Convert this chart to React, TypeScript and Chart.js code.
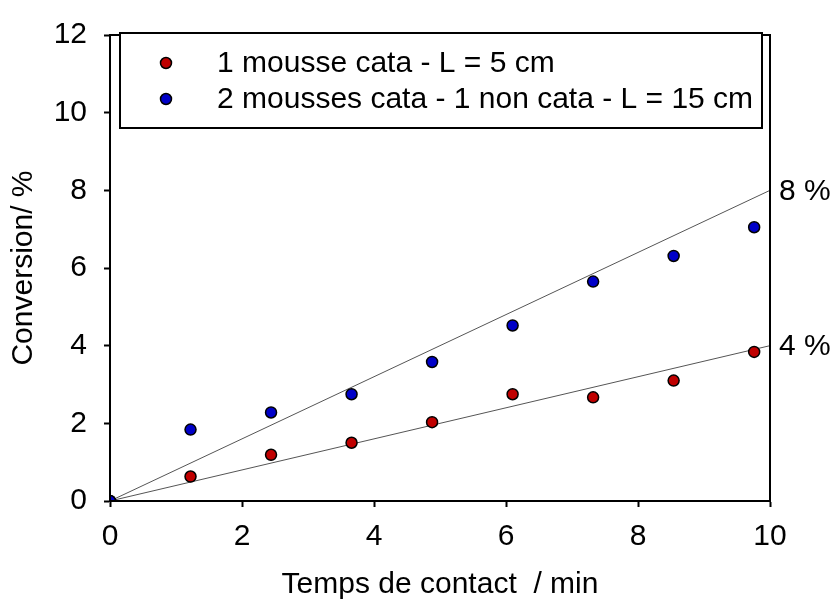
import React, { useEffect, useRef } from "react";
import { Chart, registerables } from "chart.js";

Chart.register(...registerables);

const contactTimes = [0, 1.22, 2.44, 3.66, 4.88, 6.1, 7.32, 8.54, 9.76];
const conversionOneFoam = [0, 0.63, 1.19, 1.5, 2.03, 2.75, 2.67, 3.1, 3.84];
const conversionTwoFoams = [0, 1.84, 2.28, 2.75, 3.58, 4.52, 5.65, 6.31, 7.05];
const seriesLabels = ["1 mousse cata - L = 5 cm", "2 mousses cata - 1 non cata - L = 15 cm"];
const fitLineX = [0, 10];
const fitEndValues = [8, 4];
const fitLabels = ["8 %", "4 %"];
const xTicks = [0, 2, 4, 6, 8, 10];
const yTicks = [0, 2, 4, 6, 8, 10, 12];

const RED = "#c00000";
const BLUE = "#0000c8";
const FONT = "'Liberation Sans', Arial, sans-serif";
const FS = 30;

const framePlugin = {
  id: "frameAndLegend",
  afterDatasetsDraw(chart: any) {
    const { ctx, chartArea, scales } = chart;
    ctx.save();
    ctx.strokeStyle = "#000";
    ctx.lineWidth = 2;
    ctx.strokeRect(chartArea.left, chartArea.top, chartArea.right - chartArea.left, chartArea.bottom - chartArea.top);
    ctx.fillStyle = "#000";
    ctx.font = `${FS}px ${FONT}`;
    ctx.textAlign = "left";
    ctx.textBaseline = "middle";
    fitEndValues.forEach((v, i) => {
      const y = scales.y.getPixelForValue(v);
      ctx.fillText(fitLabels[i], chartArea.right + 9, y + 1);
    });
    const bx = 120, by = 33, bw = 642, bh = 95;
    ctx.fillStyle = "#fff";
    ctx.fillRect(bx, by, bw, bh);
    ctx.lineWidth = 2;
    ctx.strokeStyle = "#000";
    ctx.strokeRect(bx, by, bw, bh);
    const colors = [RED, BLUE];
    const rowsY = [63, 99];
    seriesLabels.forEach((lab, i) => {
      ctx.beginPath();
      ctx.arc(166, rowsY[i], 5.5, 0, Math.PI * 2);
      ctx.fillStyle = colors[i];
      ctx.fill();
      ctx.lineWidth = 1.5;
      ctx.strokeStyle = "#000";
      ctx.stroke();
      ctx.fillStyle = "#000";
      ctx.font = `${FS}px ${FONT}`;
      ctx.textBaseline = "middle";
      ctx.fillText(lab, 217, rowsY[i] + 1);
    });
    ctx.restore();
  },
};

export default function App() {
  const ref = useRef<HTMLCanvasElement>(null);
  useEffect(() => {
    if (!ref.current) return;
    const pts = (ys: number[]) => contactTimes.map((x, i) => ({ x, y: ys[i] }));
    const fit = (end: number) => fitLineX.map((x) => ({ x, y: (end * x) / 10 }));
    const chart = new Chart(ref.current, {
      type: "scatter",
      data: {
        datasets: [
          {
            type: "line",
            label: "fit8",
            data: fit(fitEndValues[0]),
            borderColor: "#555",
            borderWidth: 1,
            pointRadius: 0,
            fill: false,
            order: 3,
          } as any,
          {
            type: "line",
            label: "fit4",
            data: fit(fitEndValues[1]),
            borderColor: "#555",
            borderWidth: 1,
            pointRadius: 0,
            fill: false,
            order: 3,
          } as any,
          {
            label: seriesLabels[0],
            data: pts(conversionOneFoam),
            backgroundColor: RED,
            borderColor: "#000",
            borderWidth: 1.5,
            pointRadius: 5.5,
            order: 2,
          },
          {
            label: seriesLabels[1],
            data: pts(conversionTwoFoams),
            backgroundColor: BLUE,
            borderColor: "#000",
            borderWidth: 1.5,
            pointRadius: 5.5,
            order: 1,
          },
        ],
      },
      options: {
        animation: false,
        responsive: false,
        events: [],
        layout: { padding: { top: 27, right: 60, left: 0, bottom: 0 } },
        plugins: { legend: { display: false }, tooltip: { enabled: false } },
        scales: {
          x: {
            type: "linear",
            min: 0,
            max: 10,
            afterBuildTicks: (s: any) => {
              s.ticks = xTicks.map((v) => ({ value: v }));
            },
            afterFit: (s: any) => {
              s.height = 102;
            },
            ticks: { color: "#000", font: { family: FONT, size: FS }, padding: 12, maxRotation: 0 },
            grid: { drawOnChartArea: false, drawTicks: true, tickLength: 6, tickWidth: 2, tickColor: "#000" },
            border: { display: true, color: "#000", width: 2 },
            title: {
              display: true,
              text: "Temps de contact  / min",
              color: "#000",
              font: { family: FONT, size: FS },
              padding: { top: 0, bottom: 0 },
            },
          },
          y: {
            type: "linear",
            min: 0,
            max: 12,
            afterBuildTicks: (s: any) => {
              s.ticks = yTicks.map((v) => ({ value: v }));
            },
            afterFit: (s: any) => {
              s.width = 110;
            },
            ticks: { color: "#000", font: { family: FONT, size: FS }, padding: 17 },
            grid: { drawOnChartArea: false, drawTicks: true, tickLength: 6, tickWidth: 2, tickColor: "#000" },
            border: { display: true, color: "#000", width: 2 },
            title: {
              display: true,
              text: "Conversion/ %",
              color: "#000",
              font: { family: FONT, size: FS },
              padding: { top: 6, bottom: 0 },
            },
          },
        },
      },
      plugins: [framePlugin],
    });
    return () => chart.destroy();
  }, []);
  return (
    <div style={{ position: "absolute", left: 0, top: 0, width: 830, height: 603, background: "#fff" }}>
      <canvas ref={ref} width={830} height={603} style={{ display: "block" }} />
    </div>
  );
}
